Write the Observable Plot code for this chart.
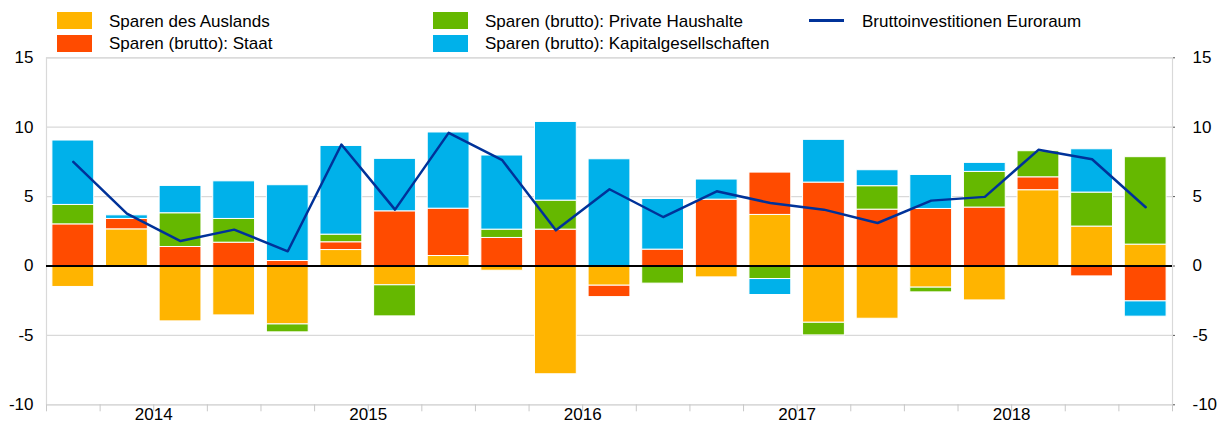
<!DOCTYPE html>
<html>
<head>
<meta charset="utf-8">
<script src="https://cdn.jsdelivr.net/npm/d3@7"></script>
<script src="https://cdn.jsdelivr.net/npm/@observablehq/plot@0.6"></script>
<style>
  html, body { margin: 0; padding: 0; background: white; }
  body { width: 1221px; height: 428px; overflow: hidden; font-family: "Liberation Sans", Arial, sans-serif; }
  #legend { position: relative; width: 1221px; height: 50px; font-size: 17px; color: #000; }
  .item { position: absolute; white-space: nowrap; line-height: 17px; }
  .sw { position: absolute; width: 35px; height: 17px; }
  .ln { position: absolute; width: 35px; height: 3px; background: #003299; }
  #chart svg { display: block; }
</style>
</head>
<body>
<div id="legend"></div>
<div id="chart"></div>
<script>
// ---- data ----
const quarters = ["2014Q1","2014Q2","2014Q3","2014Q4","2015Q1","2015Q2","2015Q3","2015Q4",
  "2016Q1","2016Q2","2016Q3","2016Q4","2017Q1","2017Q2","2017Q3","2017Q4",
  "2018Q1","2018Q2","2018Q3","2018Q4","2019Q1"];
const years = ["2014","2015","2016","2017","2018"];
const seriesNames = ["Sparen des Auslands","Sparen (brutto): Staat","Sparen (brutto): Private Haushalte","Sparen (brutto): Kapitalgesellschaften"];
const lineName = "Bruttoinvestitionen Euroraum";
const colors = ["#FFB400","#FF4B00","#65B800","#00B1EA"];
const lineColor = "#003299";

const ausland   = [-1.51, 2.64, -3.99, -3.56, -4.21, 1.15, -1.39, 0.72, -0.34, -7.8, -1.42, 0, -0.82, 3.68, -4.09, -3.8, -1.56, -2.48, 5.46, 2.84, 1.54];
const staat     = [3.0, 0.75, 1.37, 1.68, 0.36, 0.56, 3.94, 3.41, 2.02, 2.62, -0.82, 1.18, 4.78, 3.05, 6.01, 4.06, 4.11, 4.21, 0.93, -0.75, -2.55];
const haushalte = [1.4, 0, 2.43, 1.71, -0.57, 0.55, -2.24, 0, 0.6, 2.09, 0, -1.27, 0, -0.94, -0.91, 1.69, -0.34, 2.57, 1.88, 2.45, 6.3];
const kapital   = [4.64, 0.26, 1.97, 2.71, 5.46, 6.39, 3.78, 5.49, 5.34, 5.67, 7.69, 3.65, 1.45, -1.15, 3.08, 1.15, 2.45, 0.65, 0, 3.12, -1.1];
const investition = [7.5, 3.77, 1.8, 2.62, 1.06, 8.75, 4.06, 9.59, 7.62, 2.57, 5.53, 3.53, 5.38, 4.54, 4.06, 3.1, 4.71, 4.98, 8.37, 7.69, 4.23];
const yTicks = [-10, -5, 0, 5, 10, 15];

// ---- build tables ----
const seriesValues = [ausland, staat, haushalte, kapital];
const bars = [];
seriesValues.forEach((vals, s) => vals.forEach((v, i) => {
  if (v !== 0) bars.push({q: quarters[i], series: seriesNames[s], value: v});
}));
const lineData = quarters.map((q, i) => ({q, value: investition[i]}));
const yearData = years.map(y => ({year: y, q: y + "Q3"}));

// ---- layout ----
const W = 1221, H = 378;
const mL = 46, mR = 49, mT = 7.3, mB = 23.7;
const step = (W - mL - mR) / quarters.length;
const plotH = H - mT - mB;
const font = "'Liberation Sans', Arial, sans-serif";

// ---- legend ----
const legend = document.getElementById("legend");
const legendItems = [
  {type: "sw", color: colors[0], label: seriesNames[0], x: 57, y: 12},
  {type: "sw", color: colors[1], label: seriesNames[1], x: 57, y: 34.5},
  {type: "sw", color: colors[2], label: seriesNames[2], x: 433, y: 12},
  {type: "sw", color: colors[3], label: seriesNames[3], x: 433, y: 34.5},
  {type: "ln", color: lineColor, label: lineName, x: 809, y: 12}
];
legendItems.forEach(it => {
  const m = document.createElement("div");
  if (it.type === "sw") {
    m.className = "sw"; m.style.left = it.x + "px"; m.style.top = it.y + "px"; m.style.background = it.color;
  } else {
    m.className = "ln"; m.style.left = it.x + "px"; m.style.top = (it.y + 7) + "px"; m.style.background = it.color;
  }
  legend.appendChild(m);
  const t = document.createElement("div");
  t.className = "item"; t.textContent = it.label;
  t.style.left = (it.type === "sw" ? it.x + 52 : it.x + 53) + "px";
  t.style.top = (it.y + 0.5) + "px";
  legend.appendChild(t);
});

// ---- chart ----
const chart = Plot.plot({
  width: W, height: H,
  marginLeft: mL, marginRight: mR, marginTop: mT, marginBottom: mB,
  style: {fontFamily: font, fontSize: "17px", color: "#000", background: "white", overflow: "visible"},
  x: {domain: quarters, paddingInner: 0.22, paddingOuter: 0.11, round: false, axis: null},
  y: {domain: [-10, 15], ticks: yTicks, axis: null},
  color: {domain: seriesNames, range: colors},
  marks: [
    Plot.gridY(yTicks, {stroke: "#d9d9d9", strokeOpacity: 1, strokeWidth: 1.2}),
    Plot.frame({stroke: "#d9d9d9", strokeWidth: 1.2}),
    Plot.axisY(yTicks, {anchor: "left", tickSize: 0, tickPadding: 13, tickFormat: d => String(d), label: null, fontSize: 17}),
    Plot.axisY(yTicks, {anchor: "right", tickSize: 2, tickPadding: 18, stroke: "#555", tickFormat: d => String(d), label: null, fontSize: 17}),
    Plot.barY(bars, {x: "q", y: "value", fill: "series", order: seriesNames, stroke: "white", strokeWidth: 1}),
    Plot.ruleY([0], {stroke: "#000", strokeWidth: 2}),
    Plot.line(lineData, {x: "q", y: "value", stroke: lineColor, strokeWidth: 2.5}),
    Plot.ruleX(quarters, {x: d => d, dx: -step / 2, insetTop: plotH, insetBottom: -7, stroke: "#c8c8c8"}),
    Plot.ruleX(quarters.slice(-1), {x: d => d, dx: step / 2, insetTop: plotH, insetBottom: -7, stroke: "#c8c8c8"}),
    Plot.text(yearData, {x: "q", text: "year", dx: -step / 2, frameAnchor: "bottom", dy: 15, fontSize: 17, fill: "#000"})
  ]
});
document.getElementById("chart").appendChild(chart);
</script>
</body>
</html>
